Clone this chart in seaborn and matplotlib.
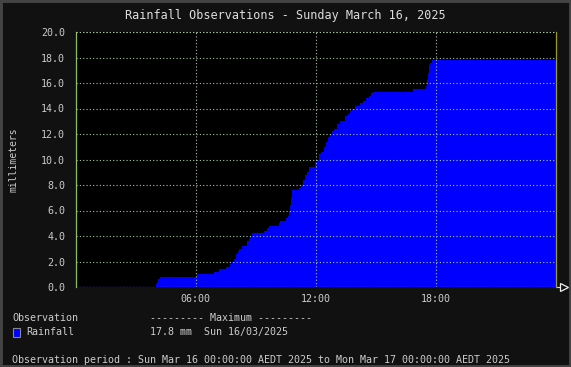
import pandas as pd
import numpy as np
import matplotlib
matplotlib.use("Agg")
import matplotlib.pyplot as plt
from matplotlib.patches import Rectangle
import seaborn as sns

# --- données (cumul de pluie, mm) ---
heures = ["00:00", "04:00", "04:03", "04:06", "04:12", "06:03", "06:54", "07:09",
          "07:30", "07:42", "07:48", "07:54", "08:00", "08:06", "08:09", "08:18",
          "08:33", "08:39", "08:42", "08:48", "09:24", "09:33", "09:39", "10:09",
          "10:12", "10:30", "10:36", "10:39", "10:42", "10:45", "10:48", "11:09",
          "11:15", "11:21", "11:27", "11:33", "11:39", "11:57", "12:03", "12:09",
          "12:15", "12:24", "12:30", "12:36", "12:42", "12:48", "12:54", "13:03",
          "13:12", "13:27", "13:36", "13:42", "13:48", "13:57", "14:12", "14:21",
          "14:30", "14:39", "14:45", "14:51", "16:51", "17:30", "17:33", "17:36",
          "17:39", "17:42", "17:48", "24:00"]
pluie_mm = [0.0, 0.2, 0.4, 0.6, 0.8, 1.0, 1.2, 1.4,
            1.6, 1.8, 2.0, 2.2, 2.6, 2.8, 3.0, 3.2,
            3.6, 3.8, 4.0, 4.2, 4.4, 4.6, 4.8, 5.0,
            5.2, 5.4, 5.6, 6.0, 6.4, 7.0, 7.6, 7.8,
            8.0, 8.4, 8.8, 9.0, 9.4, 9.8, 10.0, 10.4,
            10.6, 11.0, 11.4, 11.8, 12.0, 12.2, 12.4, 12.8,
            13.0, 13.4, 13.6, 13.8, 14.0, 14.2, 14.4, 14.6,
            14.8, 15.0, 15.2, 15.3, 15.5, 15.8, 16.2, 16.8,
            17.4, 17.6, 17.8, 17.8]
ticks_x = [6, 12, 18]
labels_x = ["06:00", "12:00", "18:00"]
ticks_y = np.arange(0, 20.1, 2.0)

df = pd.DataFrame({"heure": heures, "pluie": pluie_mm})
df["h"] = pd.to_timedelta(df["heure"] + ":00").dt.total_seconds() / 3600

# --- style ---
sns.set_theme(style="dark")
plt.rcParams["font.family"] = ["DejaVu Sans Mono", "DejaVu Sans"]
TEXTE = "#cccccc"
FOND = "#111111"
GRILLE = "#a8c8a0"

W, H = 571, 367
fig = plt.figure(figsize=(W / 100, H / 100), dpi=100, facecolor=FOND)
ax = fig.add_axes([75.5 / W, 1 - 287 / H, 480 / W, 255 / H])
ax.set_facecolor("black")

ax.fill_between(df["h"], df["pluie"], step="post", color="#0000ff", lw=0, zorder=1)
sns.lineplot(data=df, x="h", y="pluie", drawstyle="steps-post", color="#0000ff",
             lw=0.8, ax=ax, zorder=1)

ax.set_xlim(0, 24)
ax.set_ylim(0, 20)
ax.set_xticks(ticks_x)
ax.set_xticklabels(labels_x)
ax.set_yticks(ticks_y)
ax.set_yticklabels([f"{v:.1f}" for v in ticks_y])
ax.set_xlabel("")
ax.set_ylabel("millimeters", color=TEXTE, fontsize=7, labelpad=16)

ax.grid(True, color=GRILLE, linestyle=(0, (1, 2)), linewidth=0.8, zorder=2)
ax.set_axisbelow(False)
for g in ax.get_xgridlines() + ax.get_ygridlines():
    g.set_zorder(2)
ax.axhline(0, color=GRILLE, linestyle=(0, (1, 2)), linewidth=0.8, zorder=2)
ax.axhline(20, color=GRILLE, linestyle=(0, (1, 2)), linewidth=0.8, zorder=2)

ax.tick_params(axis="both", colors=TEXTE, labelsize=7.2, direction="inout",
               length=5, width=0.8)
ax.tick_params(axis="y", color="#88c060", pad=5)
ax.tick_params(axis="x", color=GRILLE, length=0, pad=5)

for cote in ["top", "bottom"]:
    ax.spines[cote].set_visible(False)
ax.spines["left"].set_color("#88c060")
ax.spines["left"].set_linewidth(0.9)
ax.spines["right"].set_color("#99993a")
ax.spines["right"].set_linewidth(0.9)

# flèche au bout de l'axe des x
ax.plot([24, 24.3], [0, 0], color="#dddddd", lw=0.8, clip_on=False)
ax.plot([24.4], [0], marker=">", markersize=6, mfc=FOND, mec="#eeeeee", mew=0.9,
        clip_on=False)

# --- textes ---
fig.text(0.5, 1 - 16 / H, "Rainfall Observations - Sunday March 16, 2025",
         ha="center", va="center", color="#dddddd", fontsize=8.5)

fig.text(12 / W, 1 - 318 / H, "Observation", color=TEXTE, fontsize=7.2, va="center")
fig.text(150.5 / W, 1 - 318 / H, "--------- Maximum ---------", color=TEXTE,
         fontsize=7.2, va="center")
fig.text(26.5 / W, 1 - 332 / H, "Rainfall", color=TEXTE, fontsize=7.2, va="center")
fig.text(150.5 / W, 1 - 332 / H, "17.8 mm  Sun 16/03/2025", color=TEXTE,
         fontsize=7.2, va="center")
fig.add_artist(Rectangle((12.5 / W, 1 - 336.5 / H), 7.5 / W, 8.5 / H,
                         transform=fig.transFigure, facecolor="#0000ff",
                         edgecolor="#888888", lw=0.8))
fig.text(12 / W, 1 - 360 / H,
         "Observation period : Sun Mar 16 00:00:00 AEDT 2025 to Mon Mar 17 00:00:00 AEDT 2025",
         color=TEXTE, fontsize=7.2, va="center")

# cadre gris autour de l'image
fig.add_artist(Rectangle((0, 0), 1, 1, transform=fig.transFigure, fill=False,
                         edgecolor="#444444", lw=3.5))

fig.savefig("out.png", dpi=100, facecolor=FOND)
